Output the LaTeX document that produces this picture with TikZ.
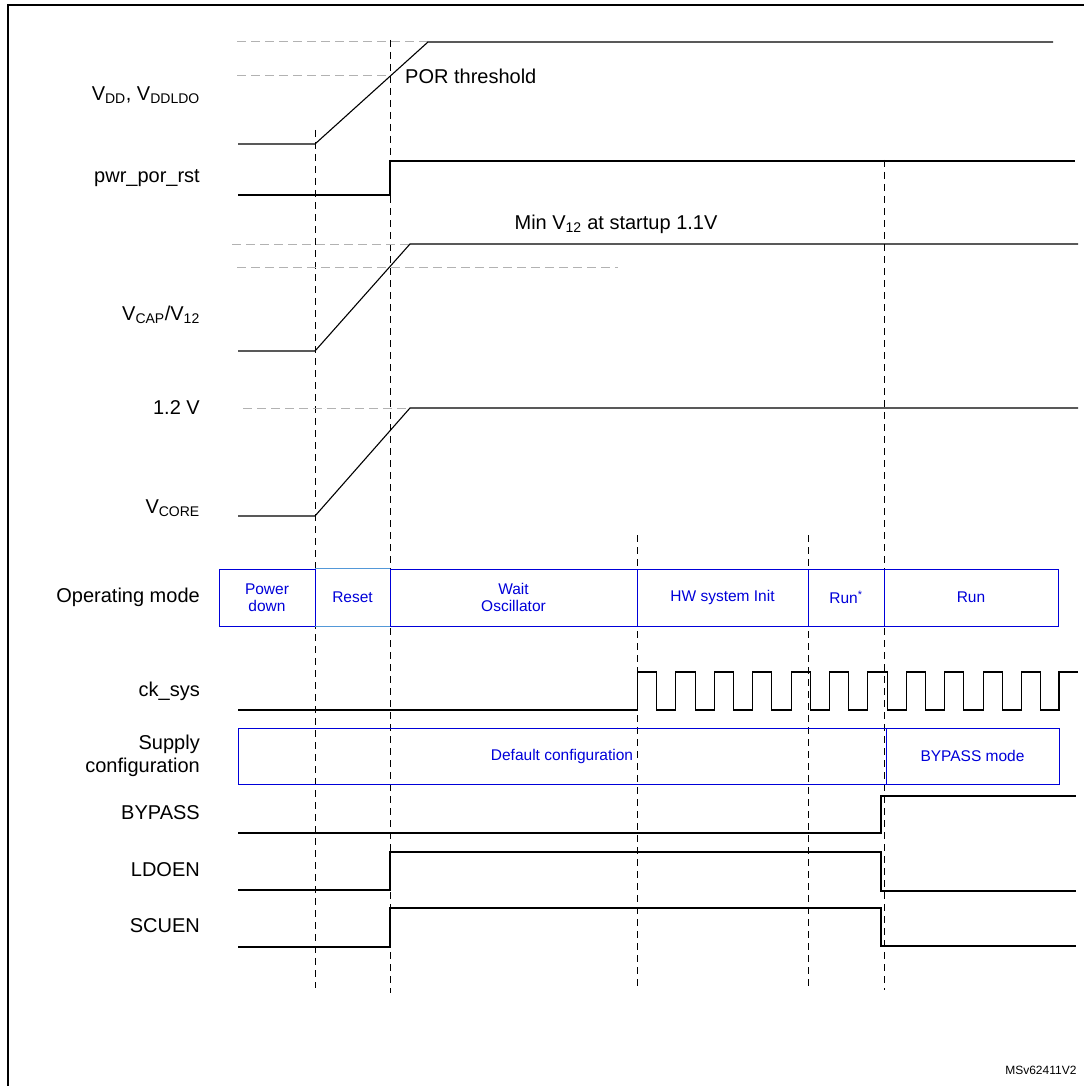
\documentclass[tikz,border=0pt]{standalone}
\usepackage{fontspec}
\setmainfont{Liberation Sans}
\begin{document}
\begin{tikzpicture}[x=1pt,y=-1pt,
  sig/.style={line width=1.1pt,black},
  vdash/.style={dash pattern=on 7pt off 5pt,line width=0.8pt,black},
  gdash/.style={dash pattern=on 9pt off 5pt,line width=1pt,gray!60},
  lab/.style={anchor=east,font=\fontsize{20}{23}\selectfont,align=right,inner sep=0pt},
  txt/.style={font=\fontsize{20}{23}\selectfont,inner sep=0pt},
  mbox/.style={draw=blue!85!black,line width=1pt,text=blue!85!black,font=\fontsize{15.5}{17}\selectfont,align=center,inner sep=0pt}]
\useasboundingbox (0,0) rectangle (1084,1086);
\draw[line width=1.3pt] (8,1086) -- (8,5) -- (1084,5);
% vertical dashed markers
\coordinate (a1) at (315,130); \coordinate (a2) at (315,988);
\coordinate (b1) at (390,40); \coordinate (b2) at (390,993);
\coordinate (c1) at (637,535); \coordinate (c2) at (637,990);
\coordinate (d1) at (808,535); \coordinate (d2) at (808,990);
\coordinate (e1) at (884,160); \coordinate (e2) at (884,990);
\draw[vdash] (a1)--(a2); \draw[vdash] (b1)--(b2); \draw[vdash] (c1)--(c2);
\draw[vdash] (d1)--(d2); \draw[vdash] (e1)--(e2);
% VDD
\draw[gdash] (237,42)--(428,42);
\draw[gdash] (237,76)--(390,76);
\draw[sig] (238,144)--(315,144)--(428,42)--(1053,42);
\node[txt,anchor=west] (por) at (405,76) {POR threshold};
\node[lab] (l1) at (200,95) {V\textsubscript{DD}, V\textsubscript{DDLDO}};
% pwr_por_rst
\draw[sig] (238,195)--(390,195)--(390,161)--(1075,161);
\node[lab] (l2) at (200,178) {pwr\_por\_rst};
% VCAP
\draw[gdash] (232,244)--(410,244);
\draw[gdash] (237,267)--(618,267);
\draw[sig] (238,351)--(315,351)--(410,244)--(1078,244);
\node[txt] (minv) at (616,224) {Min V\textsubscript{12} at startup 1.1V};
\node[lab] (l3) at (200,315) {V\textsubscript{CAP}/V\textsubscript{12}};
% VCORE
\draw[gdash] (243,408)--(410,408);
\draw[sig] (238,516)--(315,516)--(410,408)--(1078,408);
\node[lab] (l4) at (200,408) {1.2 V};
\node[lab] (l5) at (200,508) {V\textsubscript{CORE}};
% operating mode
\node[lab] (l6) at (200,597) {Operating mode};
\node[mbox,minimum width=96pt,minimum height=57pt] (m1) at (267,597.5) {Power\\down};
\node[inner sep=0pt,minimum width=75pt,minimum height=57pt,text=blue!85!black,font=\fontsize{15.5}{17}\selectfont] (m2) at (352.5,597.5) {Reset};
\draw[cyan!60!blue!70,line width=1pt] (m2.north west)--(m2.north east) (m2.south west)--(m2.south east);
\node[mbox,minimum width=247pt,minimum height=57pt] (m3) at (513.5,597.5) {Wait\\Oscillator};
\node[mbox,minimum width=171pt,minimum height=57pt] (m4) at (722.5,597.5) {HW system Init};
\node[mbox,minimum width=76pt,minimum height=57pt] (m5) at (846,597.5) {Run\textsuperscript{*}};
\node[mbox,minimum width=174pt,minimum height=57pt] (m6) at (971,597.5) {Run};
% ck_sys
\node[lab] (l7) at (200,691) {ck\_sys};
\draw[sig] (238,710)--(637.5,710)
 \foreach \k in {0,...,10}{ --({637.5+38.4*\k},710)--({637.5+38.4*\k},672)--({656.7+38.4*\k},672)--({656.7+38.4*\k},710)}
 --(1059,710)--(1059,672)--(1078,672);
% supply config
\node[lab] (l8) at (200,756) {Supply\\configuration};
\node[mbox,minimum width=648pt,minimum height=56pt] (s1) at (562,756) {Default configuration};
\node[mbox,minimum width=173pt,minimum height=56pt] (s2) at (972.5,756) {BYPASS mode};
% BYPASS
\node[lab] (l9) at (200,813) {BYPASS};
\draw[sig] (238,833)--(881,833)--(881,796)--(1076,796);
% LDOEN
\node[lab] (l10) at (200,870) {LDOEN};
\draw[sig] (238,890)--(390,890)--(390,852)--(881,852)--(881,891)--(1076,891);
% SCUEN
\node[lab] (l11) at (200,926) {SCUEN};
\draw[sig] (238,947)--(390,947)--(390,908)--(881,908)--(881,946)--(1076,946);
\node[anchor=east,font=\fontsize{12}{14}\selectfont] (ms) at (1080,1070) {MSv62411V2};
\end{tikzpicture}
\end{document}
